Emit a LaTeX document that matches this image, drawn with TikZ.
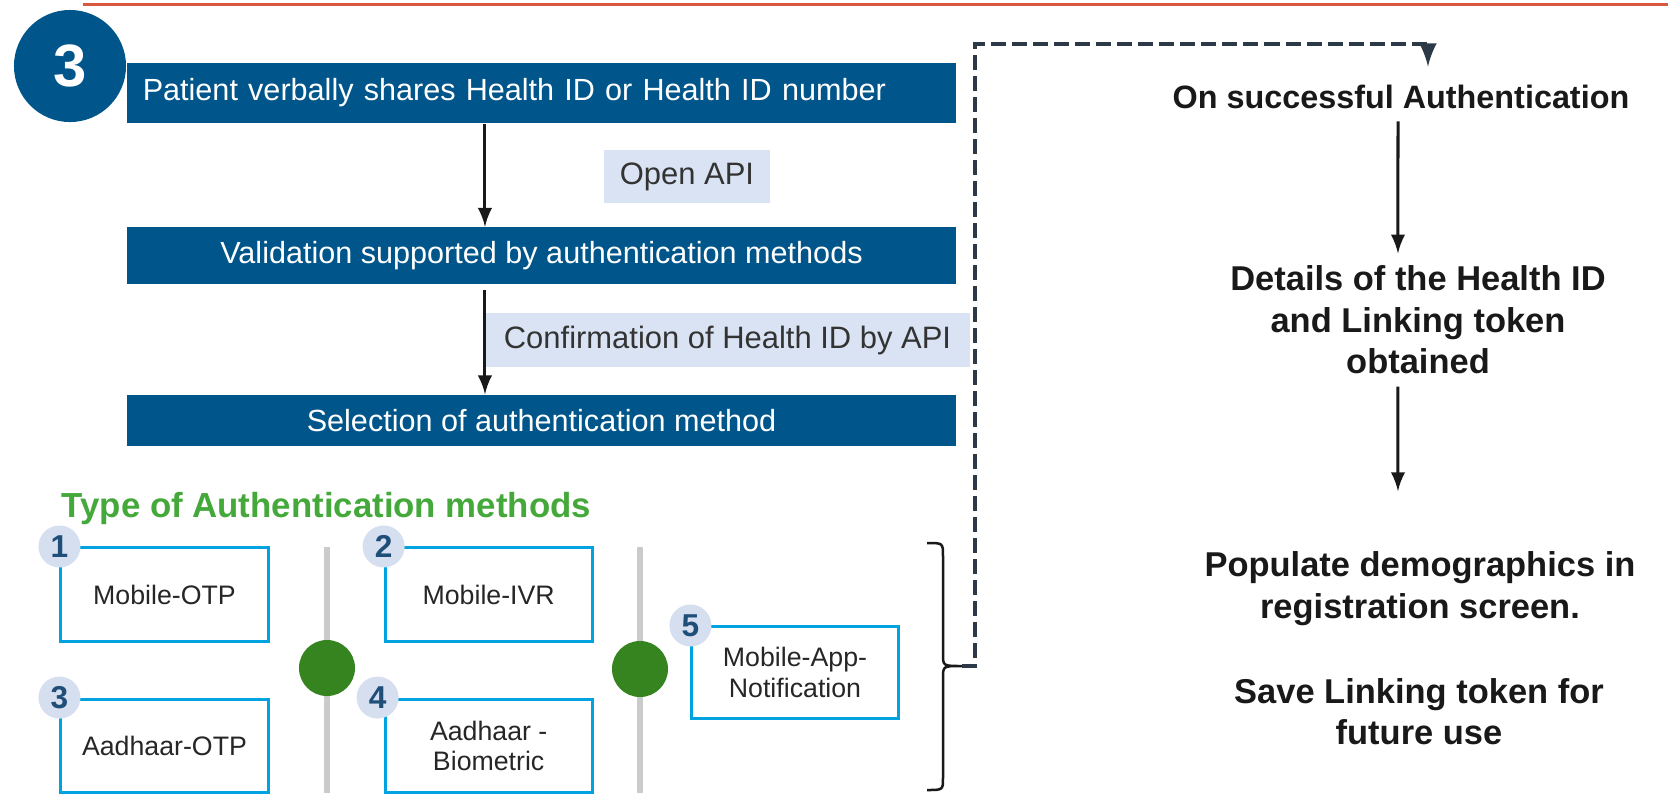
\documentclass[tikz,border=0pt]{standalone}
\usepackage{fontspec}
\setmainfont{Liberation Sans}
\usetikzlibrary{positioning,calc}
\definecolor{hidblue}{HTML}{00558A}
\definecolor{apibg}{HTML}{DAE3F3}
\definecolor{mcyan}{HTML}{00A3E0}
\definecolor{badgebg}{HTML}{D6DFF0}
\definecolor{badgefg}{HTML}{1F4E79}
\definecolor{sepgrey}{HTML}{C9CBCD}
\definecolor{okgreen}{HTML}{358420}
\definecolor{headgreen}{HTML}{45A83A}
\definecolor{dashcol}{HTML}{2B3A46}
\definecolor{rulered}{HTML}{D9573F}

\begin{document}
\begin{tikzpicture}[x=0.01cm,y=-0.01cm,
				bar/.style={fill=hidblue,text=white,minimum width=8.29cm,minimum height=0.56cm,inner xsep=0.16cm,font=\fontsize{8.7}{10.5}\selectfont},
				tag/.style={fill=apibg,text=black!80,minimum height=0.53cm,inner xsep=0.16cm,font=\fontsize{8.8}{10.5}\selectfont},
				method/.style={draw=mcyan,line width=0.03cm,minimum width=2.07cm,minimum height=0.93cm,align=center,text=black!85,font=\fontsize{7.6}{8.6}\selectfont},
				badge/.style={circle,fill=badgebg,text=badgefg,minimum size=0.42cm,inner sep=0pt,font=\fontsize{9}{9}\selectfont\bfseries},
				dot/.style={circle,fill=okgreen,minimum size=0.56cm,inner sep=0pt},
				note/.style={align=center,text=black!90,font=\fontsize{9.8}{11.8}\selectfont\bfseries},
				arr/.style={-latex,line width=0.03cm,black!90},
				dashflow/.style={-latex,dashcol,line width=0.045cm,dash pattern=on 0.15cm off 0.06cm},
				sep/.style={sepgrey,line width=0.05cm}]
				\useasboundingbox (0,0) rectangle (1668,793);
				\draw[rulered,line width=0.03cm] (83,4) -- (1668,4);
				
				\node[bar,minimum height=0.6cm,text width=7.97cm,align=left] (SHARE) at (541.5,93) {Patient verbally shares Health ID or Health ID number};
				\node[bar]                       (VALID)  [below=1.03cm of SHARE] {Validation supported by authentication methods};
				\node[bar,minimum height=0.51cm] (SELECT) [below=1.10cm of VALID] {Selection of authentication method};
				\node[circle,fill=hidblue,text=white,minimum size=1.12cm,inner sep=0pt,font=\fontsize{17}{17}\selectfont\bfseries] (STEP) at (70,66) {3};
				\node[tag]                       (OPEN)   at (687,176.5) {Open API};
				\node[tag,minimum width=4.85cm]  (CONF)   at (727.5,340) {Confirmation of Health ID by API};
				
				\draw[arr] ([xshift=-0.565cm]SHARE.south) -- ([xshift=-0.565cm]VALID.north);
				\draw[arr] ([xshift=-0.565cm,yshift=-0.06cm]VALID.south) -- ([xshift=-0.565cm]SELECT.north);
				
				\node[anchor=west,inner sep=0pt,text=headgreen,font=\fontsize{9.9}{12}\selectfont\bfseries] (TYPE) at (61,508) {Type of Authentication methods};
				\node[method] (M1) at (164.5,594.5)      {Mobile-OTP};
				\node[method] (M2) [right=1.14cm of M1]  {Mobile-IVR};
				\node[method] (M3) [below=0.55cm of M1]  {Aadhaar-OTP};
				\node[method] (M4) [below=0.55cm of M2]  {Aadhaar -\\Biometric};
				\node[method,minimum width=2.06cm,minimum height=0.91cm] (M5) at (795,672.5) {Mobile-App-\\Notification};
				\node[badge] (N1) at (M1.north west) {1};
				\node[badge] (N2) at (M2.north west) {2};
				\node[badge] (N3) at (M3.north west) {3};
				\node[badge] (N4) at ([xshift=-0.06cm]M4.north west) {4};
				\node[badge] (N5) at (M5.north west) {5};
				
				\coordinate (S1) at (327,547);
				\coordinate (S2) at (640,547);
				\draw[sep] (S1) -- ++(0,246) (S2) -- ++(0,246);
				\node[dot] (G1) at (327,668) {};
				\node[dot] (G2) at (640,669) {};
				
				\coordinate (BT) at (962,666);
				\draw[line width=0.025cm,black!90,line join=round]
					(927,543) .. controls (943,543) .. (943,556) -- (943,654) .. controls (943,666) .. (BT)
					.. controls (943,666) .. (943,678) -- (943,778) .. controls (943,790) .. (927,790);
				
				\node[note,font=\fontsize{9.2}{11.8}\selectfont\bfseries] (OK) at (1401,97) {On successful Authentication};
				\node[note] (DET)  at (1418,320)   {Details of the Health ID\\and Linking token\\obtained};
				\node[note] (POP)  at (1420,588.5) {Populate demographics in\\registration screen.};
				\node[note] (SAVE) at (1419,711.5) {Save Linking token for\\future use};
				
				\coordinate (DC) at (975,44);
				\coordinate (DT) at (1428,44);
				\draw[dashflow,shorten >=0.06cm] (BT) -- (BT -| DC) -- (DC) -- (DT) -- (DT |- OK.north);
				\draw[arr] ([xshift=-0.03cm]OK.south) -- ([xshift=-0.2cm]DET.north);
				\draw[arr] ([xshift=-0.2cm]DET.south) -- ([xshift=-0.22cm,yshift=0.48cm]POP.north);
			\end{tikzpicture}
\end{document}
